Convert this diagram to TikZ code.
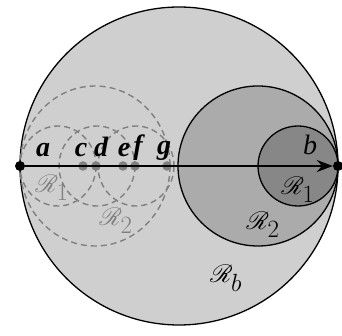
\documentclass[tikz,border=0pt]{standalone}
\usepackage{fontspec}
\setmainfont{Liberation Serif}
\usepackage{mathrsfs}
\usetikzlibrary{positioning, arrows.meta}

\definecolor{outerfill}{gray}{0.81}
\definecolor{midfill}{gray}{0.67}
\definecolor{innerfill}{gray}{0.53}
\definecolor{ghost}{gray}{0.5}

\begin{document}
\begin{tikzpicture}[
    x=1pt, y=-1pt,
    region/.style={draw=black, line width=1.3pt},
    ghostcircle/.style={draw=ghost, dash pattern=on 6pt off 4pt, line width=1.4pt},
    blackdot/.style={circle, fill=black, inner sep=0pt, minimum size=10pt},
    graydot/.style={circle, fill=ghost, inner sep=0pt, minimum size=9.5pt},
    ptlabel/.style={font=\fontsize{28}{30}\selectfont\bfseries\itshape, inner sep=0pt},
    rlabel/.style={font=\fontsize{36}{38}\selectfont, inner sep=0pt},
    arrow/.style={-{Stealth[length=16pt, width=12pt]}, line width=1.6pt}
]
\useasboundingbox (0,0) rectangle (342,336);

    % Regions
    \draw[region, fill=outerfill] (179,166) circle (159);
    \draw[region, fill=midfill] (258,166) circle (80);
    \draw[region, fill=innerfill] (298,166) circle (40);

    % Shifted copies
    \draw[ghostcircle] (95,166) ellipse (75 and 80);
    \draw[ghostcircle] (58,166) ellipse (38 and 40);
    \draw[ghostcircle] (97,166) ellipse (38 and 40);
    \draw[ghostcircle] (136,166) ellipse (38 and 40);

    % Points
    \node[blackdot] (a) at (20,166) {};
    \node[blackdot] (b) at (338,166) {};
    \node[graydot] (c) at (83,166) {};
    \node[graydot] (d) at (96,166) {};
    \node[graydot] (e) at (123,166) {};
    \node[graydot] (f) at (135,166) {};
    \node[graydot] (g) at (167,166) {};

    % Axis
    \draw[arrow] (a) -- (b.west);

    % Point labels
    \node[ptlabel] (lbl_a) at (43,150) {a};
    \node[ptlabel] (lbl_c) at (81,150) {c};
    \node[ptlabel] (lbl_d) at (101,147) {d};
    \node[ptlabel] (lbl_e) at (124,150) {e};
    \node[ptlabel] (lbl_f) at (138,148) {f};
    \node[ptlabel] (lbl_g) at (164,151) {g};
    \node[ptlabel, font=\fontsize{28}{30}\selectfont\itshape] (lbl_b) at (310,145) {b};

    % Region labels
    \node[rlabel, text=ghost] (ghost_one) at (52,188) {$\mathscr{R}_1$};
    \node[rlabel, text=ghost] (ghost_two) at (116,221) {$\mathscr{R}_2$};
    \node[rlabel] (reg_one) at (298,190) {$\mathscr{R}_1$};
    \node[rlabel] (reg_two) at (263,225) {$\mathscr{R}_2$};
    \node[rlabel] (reg_b) at (226,278) {$\mathscr{R}_b$};

\end{tikzpicture}
\end{document}
